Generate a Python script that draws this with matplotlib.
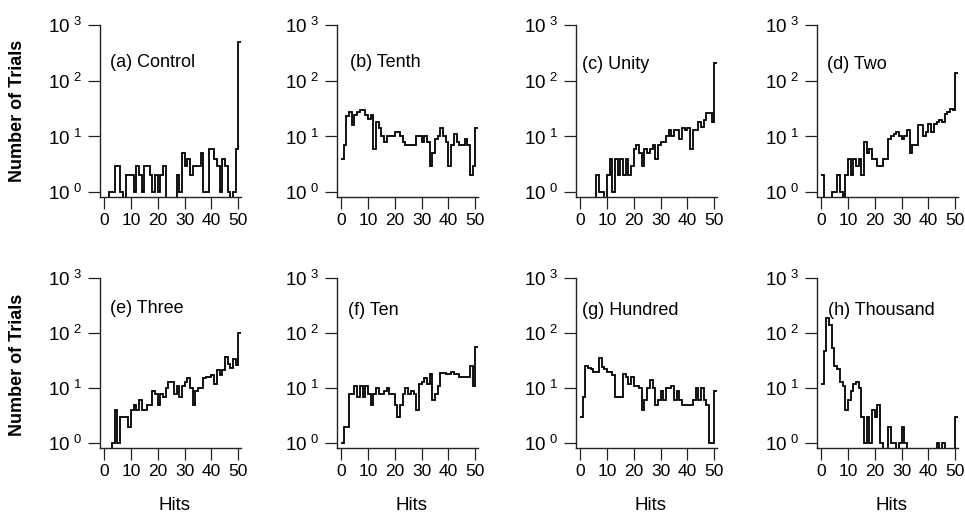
import numpy as np
import matplotlib
matplotlib.use('Agg')
import matplotlib.pyplot as plt

plt.rcParams['font.family'] = ['Liberation Sans', 'DejaVu Sans']

# hits 0..50, number of trials per hit count
hits = np.arange(51)

control = [0, 0, 1, 1, 3, 3, 1, 0, 2, 2, 2, 1, 3, 2, 1, 3, 3, 2, 1, 2, 1, 2, 3, 0, 0, 0,
           0, 2, 1, 5, 3, 4, 2, 3, 3, 3, 5, 1, 1, 6, 6, 4, 3, 1, 4, 3, 1, 0, 1, 6, 500]
tenth = [4, 7, 23, 28, 16, 24, 28, 30, 30, 24, 21, 24, 6, 18, 14, 10, 8, 10, 10, 10, 12, 12,
         10, 8, 7, 7, 7, 7, 10, 10, 8, 10, 8, 3, 5, 9, 10, 14, 10, 8, 3, 7, 11, 8, 7, 7, 9,
         7, 2, 3, 14]
unity = [0, 0, 0, 0, 0, 0, 2, 1, 1, 0, 2, 4, 1, 4, 2, 4, 2, 4, 2, 3, 6, 7, 5, 3, 6, 5, 6,
         7, 4, 7, 8, 8, 10, 13, 10, 13, 13, 9, 14, 13, 14, 6, 13, 13, 18, 15, 20, 26, 26, 18, 210]
two = [2, 0, 0, 0, 1, 1, 2, 1, 0, 2, 4, 2, 4, 3, 4, 2, 8, 5, 6, 4, 4, 3, 3, 4, 4, 9, 10, 11,
       12, 10, 9, 10, 13, 5, 7, 7, 16, 16, 10, 12, 17, 12, 17, 18, 20, 18, 25, 28, 31, 30, 140]
three = [0, 0, 0, 1, 4, 1, 3, 3, 3, 2, 4, 5, 4, 6, 4, 4, 5, 5, 9, 8, 5, 8, 7, 10, 13, 13, 8,
         11, 7, 11, 13, 15, 10, 5, 9, 10, 10, 15, 16, 16, 17, 12, 21, 17, 21, 37, 28, 23, 34,
         26, 100]
ten = [1, 2, 2, 8, 8, 11, 7, 11, 7, 11, 8, 5, 8, 10, 8, 8, 9, 10, 8, 8, 5, 3, 5, 8, 10, 8, 9,
       8, 4, 12, 13, 15, 12, 18, 6, 8, 11, 19, 19, 18, 18, 20, 18, 18, 16, 16, 16, 16, 25, 11, 56]
hundred = [3, 7, 25, 23, 22, 20, 20, 36, 24, 22, 20, 20, 17, 7, 7, 7, 18, 16, 12, 16, 11, 11,
           10, 4, 6, 10, 14, 10, 5, 6, 9, 6, 10, 10, 11, 6, 9, 6, 5, 5, 5, 5, 6, 10, 6, 10, 6,
           5, 1, 1, 9]
thousand = [12, 47, 190, 140, 54, 25, 22, 13, 11, 4, 6, 9, 12, 13, 10, 3, 1, 3, 1, 4, 3, 5, 1,
            0, 0, 2, 1, 1, 0, 1, 2, 1, 0, 0, 0, 0, 0, 0, 0, 0, 0, 0, 0, 1, 0, 1, 0, 0, 0, 0, 3]

series = [control, tenth, unity, two, three, ten, hundred, thousand]
titles = ['(a) Control', '(b) Tenth', '(c) Unity', '(d) Two',
          '(e) Three', '(f) Ten', '(g) Hundred', '(h) Thousand']
title_pos = [(0.07, 0.78), (0.09, 0.78), (0.04, 0.77), (0.07, 0.77),
             (0.07, 0.82), (0.08, 0.81), (0.04, 0.81), (0.08, 0.81)]

yticks = [1, 10, 100, 1000]
ytick_labels = [r'$\mathregular{10^{\ 0}}$', r'$\mathregular{10^{\ 1}}$',
                r'$\mathregular{10^{\ 2}}$', r'$\mathregular{10^{\ 3}}$']
xticks = [0, 10, 20, 30, 40, 50]

W, H = 965, 526
fig = plt.figure(figsize=(W / 100, H / 100), dpi=100)

lefts = [100, 337, 576, 817]
rows = [(197, 172), (448, 170)]  # (bottom px, height px)

for i, vals in enumerate(series):
    r, c = divmod(i, 4)
    bot, hgt = rows[r]
    ax = fig.add_axes([lefts[c] / W, 1 - bot / H, 141 / W, hgt / H])
    ax.set_yscale('log', nonpositive='clip')
    edges = np.append(hits, hits[-1] + 1)
    ax.stairs(vals, edges, baseline=None, color='black', linewidth=1.3)
    ax.set_xlim(-1.5, 51)
    ax.set_ylim(0.82, 1000)

    for s in ['top', 'right']:
        ax.spines[s].set_visible(False)
    for s in ['left', 'bottom']:
        ax.spines[s].set_linewidth(1.0)
        ax.spines[s].set_color('#222222')

    ax.set_yticks(yticks)
    ax.set_yticklabels(ytick_labels)
    ax.minorticks_off()
    ax.set_xticks(xticks)
    ax.tick_params(axis='y', direction='out', length=9, width=0.9, pad=4,
                   labelsize=13.5, color='#222222')
    ax.tick_params(axis='x', direction='out', length=8.5, width=0.9, pad=3,
                   labelsize=12.5, color='#222222')

    ax.text(title_pos[i][0], title_pos[i][1], titles[i], transform=ax.transAxes,
            fontsize=13, ha='left', va='center')

    if r == 1:
        ax.set_xlabel('Hits', fontsize=13.5)
        ax.xaxis.set_label_coords(0.53, -0.29)

fig.text(18 / W, 1 - 111 / H, 'Number of Trials', rotation=90, fontsize=13,
         fontweight='bold', ha='center', va='center')
fig.text(18 / W, 1 - 365 / H, 'Number of Trials', rotation=90, fontsize=13,
         fontweight='bold', ha='center', va='center')

fig.savefig('out.png', dpi=100)
